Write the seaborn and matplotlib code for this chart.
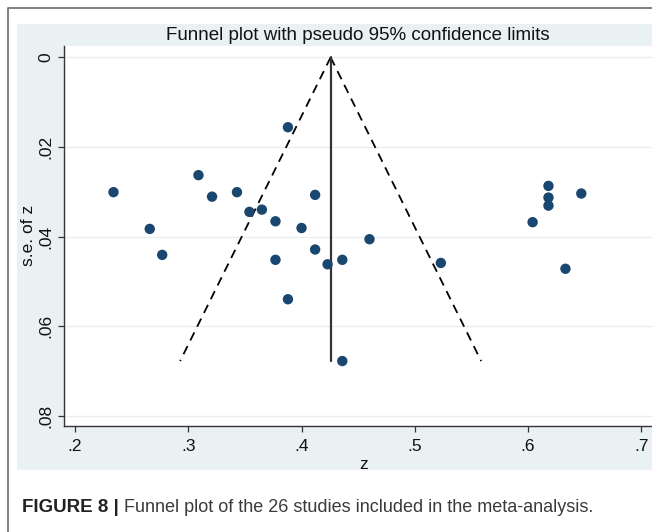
import numpy as np
import pandas as pd
import seaborn as sns
import matplotlib.pyplot as plt
from matplotlib.lines import Line2D
from matplotlib.patches import Rectangle

# study estimates (z) and their standard errors
z = [0.234, 0.266, 0.277, 0.309, 0.321, 0.343, 0.354, 0.365, 0.377, 0.377,
     0.388, 0.388, 0.400, 0.412, 0.412, 0.423, 0.436, 0.436, 0.460, 0.523,
     0.604, 0.618, 0.618, 0.618, 0.633, 0.647]
se = [0.0301, 0.0383, 0.0441, 0.0263, 0.0311, 0.0301, 0.0345, 0.0340, 0.0366, 0.0452,
      0.0156, 0.0540, 0.0381, 0.0307, 0.0429, 0.0462, 0.0452, 0.0678, 0.0406, 0.0459,
      0.0368, 0.0287, 0.0313, 0.0331, 0.0472, 0.0304]
pooled = 0.4257

xticks = [0.2, 0.3, 0.4, 0.5, 0.6, 0.7]
xticklabels = ['.2', '.3', '.4', '.5', '.6', '.7']
yticks = [0, 0.02, 0.04, 0.06, 0.08]
yticklabels = ['0', '.02', '.04', '.06', '.08']

df = pd.DataFrame({'z': z, 'se': se})

sns.set_theme(style='white')
plt.rcParams['font.family'] = ['Liberation Sans', 'DejaVu Sans']

fig = plt.figure(figsize=(6.52, 5.32), dpi=100)
fig.patch.set_facecolor('white')

# shaded graph region and the outer frame
fig.patches.append(Rectangle((17 / 652, 1 - 470 / 532), 1.0, (470 - 24) / 532,
                             transform=fig.transFigure, facecolor='#eaf1f3',
                             edgecolor='none', zorder=-10))
fig.lines.append(Line2D([8 / 652, 8 / 652, 1.0], [0, 1 - 8 / 532, 1 - 8 / 532],
                        transform=fig.transFigure, color='#777777', lw=1.3, zorder=-5))

ax = fig.add_axes([64 / 652, 1 - 426 / 532, 600 / 652, (426 - 45.7) / 532])
ax.set_zorder(1)
ax.set_facecolor('white')

# pseudo 95% limits
se_max = max(se)
se_line = np.array([0, se_max])
ax.plot(pooled - 1.96 * se_line, se_line, color='black', lw=1.3, ls=(0, (5, 3.5)), zorder=2)
ax.plot(pooled + 1.96 * se_line, se_line, color='black', lw=1.3, ls=(0, (5, 3.5)), zorder=2)
ax.plot([pooled, pooled], [0, se_max], color='#333333', lw=1.6, zorder=2)

sns.scatterplot(data=df, x='z', y='se', ax=ax, color='#1a476f', s=56,
                edgecolor='none', zorder=3)

ax.set_xlim(0.1903, 0.72)
ax.set_ylim(0.0823, -0.0026)
ax.set_xticks(xticks)
ax.set_xticklabels(xticklabels)
ax.set_yticks(yticks)
ax.set_yticklabels(yticklabels, rotation=90, va='center')
ax.yaxis.grid(True, color='#e6eef1', lw=1.0)
ax.xaxis.grid(False)
ax.set_axisbelow(True)

for s in ['top', 'right']:
    ax.spines[s].set_visible(False)
for s in ['left', 'bottom']:
    ax.spines[s].set_color('#333333')
    ax.spines[s].set_linewidth(1.0)
ax.tick_params(axis='both', direction='out', length=4.5, width=0.9, color='#333333',
               labelsize=12.5, labelcolor='#111111', left=True, bottom=True)
ax.tick_params(axis='y', pad=3)
ax.tick_params(axis='x', pad=5)

ax.set_xlabel('z', fontsize=12.5, color='#111111', labelpad=2)
ax.set_ylabel('s.e. of z', fontsize=12.5, color='#111111', labelpad=2)

fig.text(358 / 652, 1 - 35.5 / 532, 'Funnel plot with pseudo 95% confidence limits',
         ha='center', va='center', fontsize=13.5, color='#111111')

# caption
fig.canvas.draw()
t1 = fig.text(22 / 652, 1 - 507 / 532, 'FIGURE 8 |', ha='left', va='center',
              fontsize=13.5, fontweight='bold', color='#222222')
fig.canvas.draw()
bb = t1.get_window_extent()
x_next = (bb.x1 + 5) / fig.bbox.width
fig.text(x_next, 1 - 507 / 532,
         'Funnel plot of the 26 studies included in the meta-analysis.',
         ha='left', va='center', fontsize=13, color='#3a3a3a')

fig.savefig('out.png', dpi=100)
